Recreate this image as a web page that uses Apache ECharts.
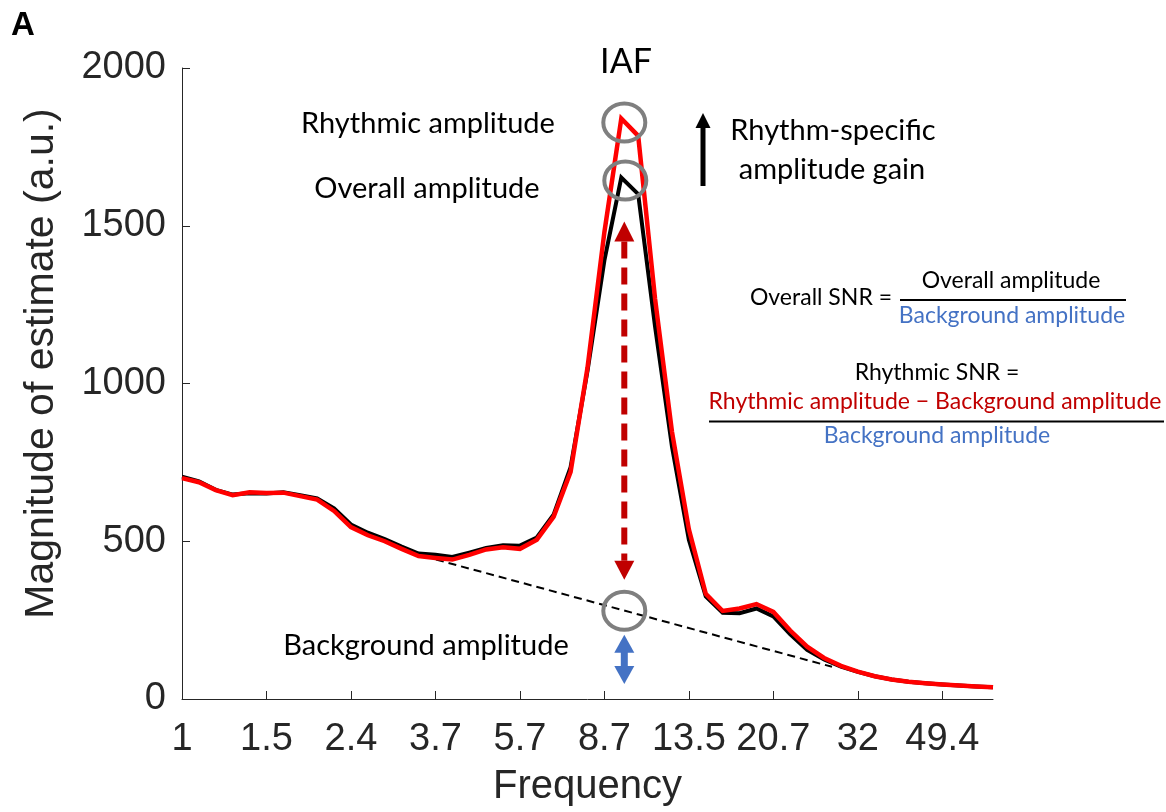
<!DOCTYPE html>
<html><head><meta charset="utf-8">
<script src="https://cdn.jsdelivr.net/npm/echarts@6/dist/echarts.min.js"></script>
<style>html,body{margin:0;padding:0;background:#fff}#c{width:1166px;height:812px}</style>
</head><body><div id="c"></div>
<script>
// Frequencies (Hz), 1/8-octave spaced
const freqs = [1.000,1.091,1.189,1.297,1.414,1.542,1.682,1.834,2.000,2.181,2.378,2.594,2.828,3.084,3.364,3.668,4.000,4.362,4.757,5.187,5.657,6.169,6.727,7.336,8.000,8.724,9.514,10.375,11.314,12.338,13.454,14.672,16.000,17.448,19.027,20.749,22.627,24.675,26.909,29.344,32.000,34.896,38.055,41.499,45.255,49.351,53.817,58.688,64.000];
// Overall amplitude (black)
const overall = [705,690,663,648,652,651,655,646,636,604,553,527,507,483,461,457,450,464,479,487,486,512,585,735,1040,1390,1653,1600,1180,800,505,325,273,272,287,262,205,156,125,103,86,72,62,55,50,46,43,40,37];
// Rhythmic amplitude (red)
const rhythmic = [700,687,662,646,655,653,654,643,632,596,545,519,500,476,453,447,442,457,474,481,476,505,578,720,1050,1480,1840,1785,1268,847,538,333,279,287,301,276,217,166,130,105,87,72,62,55,50,46,43,40,37];
// Background (aperiodic) fit, dashed
const bgFreqs = [3.678, 28.03];
const bgAmps = [442, 102];
// Axis ticks
const tickFreqs = [1, 1.542, 2.378, 3.668, 5.657, 8.724, 13.454, 20.749, 32, 49.351];
const tickLabels = ['1','1.5','2.4','3.7','5.7','8.7','13.5','20.7','32','49.4'];
const yMin = 0, yMax = 2000, yStep = 500;

const AX = '#262626';
const AXFONT = 'Liberation Sans, Arial, Helvetica, sans-serif';
const ANFONT = 'Lato, "Open Sans", sans-serif';
const tickX = tickFreqs.map(f => Math.log2(f));

const chart = echarts.init(document.getElementById('c'));
const option = {
  animation: false,
  backgroundColor: '#fff',
  grid: { left: 182, right: 173, top: 68, bottom: 110 },
  xAxis: {
    type: 'value', min: 0, max: Math.log2(freqs[freqs.length - 1]),
    name: 'Frequency', nameLocation: 'middle', nameGap: 68,
    nameTextStyle: { fontFamily: AXFONT, fontSize: 40, color: AX },
    axisLine: { show: true, onZero: false, lineStyle: { color: AX, width: 1 } },
    axisTick: { show: true, inside: true, length: 8, customValues: tickX, lineStyle: { color: AX, width: 1 } },
    axisLabel: {
      customValues: tickX, margin: 22, fontFamily: AXFONT, fontSize: 38, color: AX,
      formatter: v => { const i = tickX.findIndex(t => Math.abs(t - v) < 1e-6); return i >= 0 ? tickLabels[i] : ''; }
    },
    splitLine: { show: false }
  },
  yAxis: {
    type: 'value', min: yMin, max: yMax, interval: yStep,
    name: 'Magnitude of estimate (a.u.)', nameLocation: 'middle', nameGap: 120, nameRotate: 90,
    nameTextStyle: { fontFamily: AXFONT, fontSize: 41, color: AX, padding: [0, 0, 0, 40] },
    axisLine: { show: true, lineStyle: { color: AX, width: 1 } },
    axisTick: { show: true, inside: true, length: 8, lineStyle: { color: AX, width: 1 } },
    axisLabel: { margin: 16, fontFamily: AXFONT, fontSize: 38, color: AX, formatter: v => String(v) },
    splitLine: { show: false }
  },
  series: [
    { type: 'line', name: 'background', symbol: 'none', silent: true, z: 2,
      data: bgFreqs.map((f, i) => [Math.log2(f), bgAmps[i]]),
      lineStyle: { color: '#000', width: 2, type: [8, 5] } },
    { type: 'line', name: 'overall', symbol: 'none', silent: true, z: 3,
      data: freqs.map((f, i) => [Math.log2(f), overall[i]]),
      lineStyle: { color: '#000', width: 4, join: 'miter' } },
    { type: 'line', name: 'rhythmic', symbol: 'none', silent: true, z: 4,
      data: freqs.map((f, i) => [Math.log2(f), rhythmic[i]]),
      lineStyle: { color: '#ff0000', width: 4.5, join: 'miter' } }
  ]
};
chart.setOption(option);

// Annotation anchors from the data via the chart's scales
const peakIdx = rhythmic.indexOf(Math.max(...rhythmic));
const lx = Math.log2(freqs[peakIdx]);
const p = (x, v) => chart.convertToPixel({ gridIndex: 0 }, [x, v]);
const redPk = p(lx, rhythmic[peakIdx]);
const blkPk = p(lx, overall[peakIdx]);
const b0 = Math.log2(bgFreqs[0]), b1 = Math.log2(bgFreqs[1]);
const bgAtPeak = bgAmps[0] + (bgAmps[1] - bgAmps[0]) * (lx - b0) / (b1 - b0);
const bgPk = p(lx, bgAtPeak);
const zeroPx = p(lx, 0);

const cx = redPk[0] + 3;
const c1 = [cx, redPk[1] + 4], c2 = [cx + 1, blkPk[1] + 3], c3 = [cx, bgPk[1] + 1];
const ell = c => ({ type: 'ellipse', shape: { cx: c[0], cy: c[1], rx: 21, ry: 19 }, style: { fill: 'none', stroke: '#7f7f7f', lineWidth: 4 }, z: 10 });
const txt = (x, y, t, size, color) => ({ type: 'text', x, y, z: 10,
  style: { text: t, font: size + 'px ' + ANFONT, fill: color || '#000', align: 'center', verticalAlign: 'middle' } });

const DR = '#c00000', BL = '#4472c4';
const ax = cx;
const rTop = c2[1] + 41, rBot = c3[1] - 31;
const bTop = c3[1] + 24, bBot = zeroPx[1] - 15;
const kx = 703, kTop = 113, kBot = 186;

const graphics = [
  ell(c1), ell(c2), ell(c3),
  // dark red dashed double arrow
  { type: 'line', z: 9, shape: { x1: ax, y1: rTop + 20, x2: ax, y2: rBot - 19 }, style: { stroke: DR, lineWidth: 6, lineDash: [17, 9] } },
  { type: 'polygon', z: 9, shape: { points: [[ax - 10, rTop + 20], [ax + 10, rTop + 20], [ax, rTop]] }, style: { fill: DR } },
  { type: 'polygon', z: 9, shape: { points: [[ax - 10, rBot - 19], [ax + 10, rBot - 19], [ax, rBot]] }, style: { fill: DR } },
  // blue double arrow
  { type: 'line', z: 9, shape: { x1: ax, y1: bTop + 17, x2: ax, y2: bBot - 17 }, style: { stroke: BL, lineWidth: 7 } },
  { type: 'polygon', z: 9, shape: { points: [[ax - 10, bTop + 18], [ax + 10, bTop + 18], [ax, bTop]] }, style: { fill: BL } },
  { type: 'polygon', z: 9, shape: { points: [[ax - 10, bBot - 18], [ax + 10, bBot - 18], [ax, bBot]] }, style: { fill: BL } },
  // black arrow
  { type: 'line', z: 9, shape: { x1: kx, y1: kTop + 14, x2: kx, y2: kBot }, style: { stroke: '#000', lineWidth: 5 } },
  { type: 'polygon', z: 9, shape: { points: [[kx - 7.5, kTop + 15], [kx + 7.5, kTop + 15], [kx, kTop]] }, style: { fill: '#000' } },
  // texts
  { type: 'text', x: 23, y: 26, z: 10, style: { text: 'A', font: 'bold 33px ' + AXFONT, fill: '#000', align: 'center', verticalAlign: 'middle' } },
  txt(626, 62, 'IAF', 34),
  txt(428, 124, 'Rhythmic amplitude', 29),
  txt(427, 189, 'Overall amplitude', 29),
  txt(833, 131, 'Rhythm-specific', 29),
  txt(832, 170, 'amplitude gain', 29),
  txt(426, 646, 'Background amplitude', 29),
  txt(821, 298, 'Overall SNR =', 23),
  txt(1011, 281, 'Overall amplitude', 23),
  txt(1012, 316, 'Background amplitude', 23, BL),
  { type: 'line', z: 9, shape: { x1: 900, y1: 300, x2: 1126, y2: 300 }, style: { stroke: '#000', lineWidth: 2 } },
  txt(937, 373, 'Rhythmic SNR =', 23),
  txt(935, 402, 'Rhythmic amplitude \u2212 Background amplitude', 23, DR),
  { type: 'line', z: 9, shape: { x1: 709, y1: 421.5, x2: 1164, y2: 421.5 }, style: { stroke: '#000', lineWidth: 2 } },
  txt(937, 436, 'Background amplitude', 23, BL)
];
chart.setOption({ graphic: graphics });
</script>
</body></html>
